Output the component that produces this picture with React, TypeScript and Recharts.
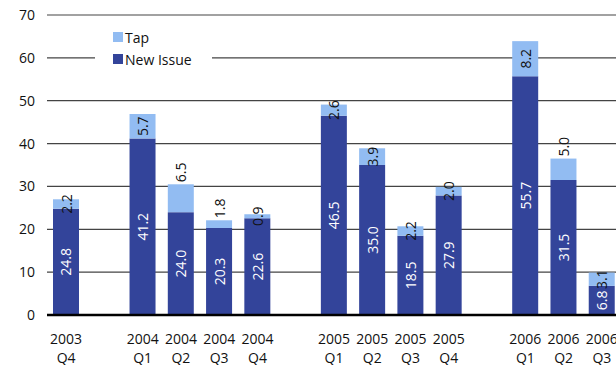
import { BarChart, Bar, XAxis, YAxis, CartesianGrid, Legend, LabelList } from "recharts";

// quarters, with blank slots as spacers between the years
const quarters = [
  "2003 Q4", "",
  "2004 Q1", "2004 Q2", "2004 Q3", "2004 Q4", "",
  "2005 Q1", "2005 Q2", "2005 Q3", "2005 Q4", "",
  "2006 Q1", "2006 Q2", "2006 Q3",
];
const newIssue = [24.8, null, 41.2, 24.0, 20.3, 22.6, null, 46.5, 35.0, 18.5, 27.9, null, 55.7, 31.5, 6.8];
const tap = [2.2, null, 5.7, 6.5, 1.8, 0.9, null, 2.6, 3.9, 2.2, 2.0, null, 8.2, 5.0, 3.1];
const yTicks = [0, 10, 20, 30, 40, 50, 60, 70];

// tap values written above the stack rather than inside their segment
const tapAbove = new Set(["2004 Q1", "2004 Q2", "2005 Q4", "2006 Q2"]);

const NAVY = "#33449a";
const SKY = "#92bcf2";
const FONT = "'Open Sans', sans-serif";

const data = quarters.map((q, i) => ({ quarter: q, newIssue: newIssue[i], tap: tap[i] }));

function QuarterTick({ x, y, payload }: any) {
  if (!payload.value) return <g />;
  const [year, q] = String(payload.value).split(" ");
  return (
    <text textAnchor="middle" fontSize={14} fill="#111" fontFamily={FONT}>
      <tspan x={x} y={y + 27}>{year}</tspan>
      <tspan x={x} y={y + 46}>{q}</tspan>
    </text>
  );
}

function rotatedLabel(color: string, series: "newIssue" | "tap") {
  return (props: any) => {
    const { x, y, width, height, value, index } = props;
    if (value == null) return <g />;
    const cx = x + width / 2;
    const above = series === "tap" && tapAbove.has(quarters[index]);
    const cy = above ? y - 2 : y + height / 2;
    return (
      <text
        x={cx}
        y={cy}
        transform={`rotate(-90 ${cx} ${cy})`}
        textAnchor={above ? "start" : "middle"}
        dominantBaseline="central"
        fontSize={14}
        fill={color}
        fontFamily={FONT}
      >
        {Number(value).toFixed(1)}
      </text>
    );
  };
}

function KeyBox() {
  const rows = [
    { label: "Tap", color: SKY },
    { label: "New Issue", color: NAVY },
  ];
  return (
    <div style={{ background: "#fff", width: 117, fontFamily: FONT }}>
      {rows.map((r) => (
        <div key={r.label} style={{ display: "flex", alignItems: "center", height: 22, paddingLeft: 18 }}>
          <span style={{ width: 10, height: 10, background: r.color, marginRight: 2 }} />
          <span style={{ fontSize: 14, color: "#111" }}>{r.label}</span>
        </div>
      ))}
    </div>
  );
}

export default function App() {
  return (
    <>
      {/* the chart runs off the right edge, so the page gets no margin of its own */}
      <style>{"body { margin: 0; }"}</style>
      <div style={{ width: 616, height: 365, overflow: "hidden", fontFamily: FONT }}>
        <BarChart
          width={628}
          height={365}
          data={data}
          margin={{ top: 15, right: 7, bottom: 0, left: 8 }}
          barSize={26}
        >
          <CartesianGrid vertical={false} stroke="#444" strokeWidth={1.2} />
          <XAxis
            dataKey="quarter"
            height={50}
            tick={<QuarterTick />}
            tickLine={false}
            tickSize={0}
            interval={0}
            axisLine={{ stroke: "#000", strokeWidth: 2.5 }}
          />
          <YAxis
            width={39}
            domain={[0, 70]}
            ticks={yTicks}
            axisLine={false}
            tickLine={false}
            tickSize={0}
            tickMargin={12}
            tick={{ fontSize: 14, fill: "#111", fontFamily: FONT }}
          />
          <Legend
            layout="vertical"
            align="center"
            verticalAlign="middle"
            content={<KeyBox />}
            wrapperStyle={{ left: 95, top: 26, width: 117 }}
          />
          <Bar dataKey="newIssue" name="New Issue" stackId="a" fill={NAVY} isAnimationActive={false}>
            <LabelList dataKey="newIssue" content={rotatedLabel("#fff", "newIssue")} />
          </Bar>
          <Bar dataKey="tap" name="Tap" stackId="a" fill={SKY} isAnimationActive={false}>
            <LabelList dataKey="tap" content={rotatedLabel("#111", "tap")} />
          </Bar>
        </BarChart>
      </div>
    </>
  );
}
